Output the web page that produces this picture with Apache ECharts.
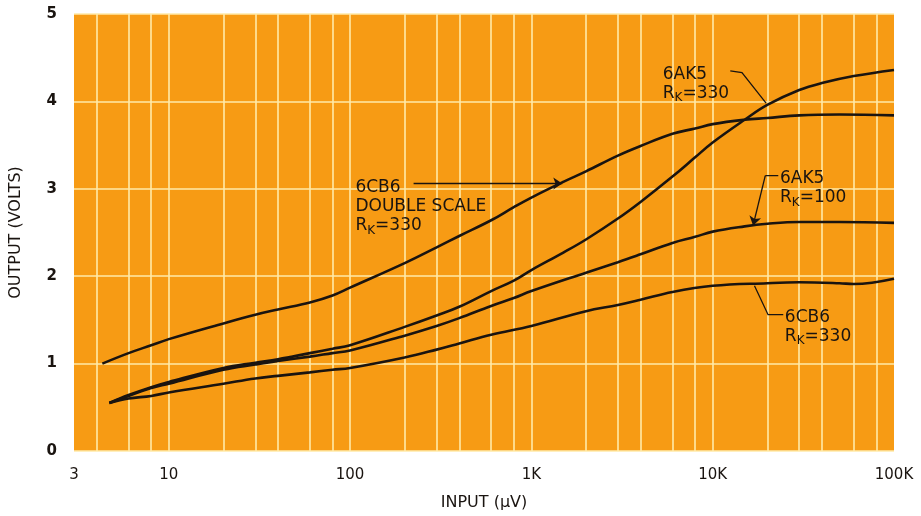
<!DOCTYPE html>
<html>
<head>
<meta charset="utf-8">
<script src="https://cdn.jsdelivr.net/npm/echarts@6/dist/echarts.min.js"></script>
<style>
  html, body { margin: 0; padding: 0; background: #fff; }
  #main { width: 921px; height: 516px; }
</style>
</head>
<body>
<div id="main"></div>
<script>
// input in microvolts, output in volts
const dblInput  = [4.3, 6, 8, 10, 20, 30, 40, 60, 80, 100, 200, 300, 400, 600, 800, 1000, 1500, 2000, 3000, 4000, 6000, 8000, 10000, 15000, 20000, 30000, 50000, 100000];
const dblOutput = [1.0, 1.12, 1.21, 1.28, 1.46, 1.56, 1.62, 1.70, 1.78, 1.87, 2.15, 2.33, 2.46, 2.64, 2.79, 2.90, 3.08, 3.20, 3.38, 3.49, 3.63, 3.69, 3.74, 3.79, 3.81, 3.84, 3.85, 3.84];

const ak330Input  = [4.7, 6, 8, 10, 20, 30, 40, 60, 80, 100, 200, 300, 400, 600, 800, 1000, 1500, 2000, 3000, 4000, 6000, 8000, 10000, 15000, 20000, 30000, 40000, 60000, 100000];
const ak330Output = [0.55, 0.64, 0.73, 0.79, 0.95, 1.01, 1.05, 1.12, 1.17, 1.21, 1.42, 1.55, 1.65, 1.83, 1.95, 2.07, 2.27, 2.42, 2.66, 2.85, 3.14, 3.36, 3.53, 3.79, 3.96, 4.13, 4.21, 4.29, 4.36];

const ak100Input  = [4.7, 6, 8, 10, 20, 30, 40, 60, 80, 100, 200, 300, 400, 600, 800, 1000, 2000, 3000, 4000, 6000, 8000, 10000, 15000, 20000, 30000, 50000, 100000];
const ak100Output = [0.55, 0.63, 0.72, 0.77, 0.93, 0.99, 1.03, 1.08, 1.12, 1.15, 1.32, 1.43, 1.52, 1.66, 1.75, 1.83, 2.04, 2.16, 2.25, 2.38, 2.45, 2.51, 2.57, 2.60, 2.62, 2.62, 2.61];

const cb330Input  = [4.7, 6, 8, 10, 20, 30, 40, 60, 80, 100, 200, 300, 400, 600, 1000, 2000, 3000, 4000, 6000, 10000, 20000, 30000, 50000, 60000, 100000];
const cb330Output = [0.55, 0.60, 0.63, 0.67, 0.77, 0.83, 0.86, 0.90, 0.93, 0.95, 1.07, 1.16, 1.23, 1.33, 1.43, 1.60, 1.67, 1.73, 1.82, 1.89, 1.92, 1.93, 1.92, 1.91, 1.97];

// vertical rulings of the log paper
const gridLinesX = [4, 6, 8, 10, 20, 30, 40, 60, 80, 100, 200, 300, 400, 600, 800,
  1000, 2000, 3000, 4000, 6000, 8000, 10000, 20000, 30000, 40000, 60000, 80000];

const zip = (xs, ys) => xs.map((x, i) => [x, ys[i]]);

const ink = '#1a1410';
const paper = '#F79B14';
const rule = '#FFEAA8';
const font = 'DejaVu Sans';

const chart = echarts.init(document.getElementById('main'));

function curve(name, xs, ys) {
  return {
    name: name,
    type: 'line',
    data: zip(xs, ys),
    smooth: 0.4,
    showSymbol: false,
    silent: true,
    z: 5,
    lineStyle: { color: ink, width: 2.6 }
  };
}

function leaders(items, arrow) {
  return {
    type: 'lines',
    coordinateSystem: 'cartesian2d',
    polyline: !arrow,
    silent: true,
    z: 6,
    symbol: arrow ? ['none', 'arrow'] : 'none',
    symbolSize: 9,
    lineStyle: { color: ink, width: 1.3, opacity: 1 },
    data: items.map(c => ({ coords: c }))
  };
}

const option = {
  animation: false,
  backgroundColor: '#fff',
  grid: {
    left: 74, right: 27, top: 14, bottom: 56,
    show: true, backgroundColor: paper, borderWidth: 0
  },
  xAxis: {
    type: 'log',
    logBase: 10,
    min: 3,
    max: 100000,
    name: 'INPUT (μV)',
    nameLocation: 'middle',
    nameGap: 44,
    nameTextStyle: { color: ink, fontFamily: font, fontSize: 16 },
    axisLine: { show: false },
    axisTick: { show: false },
    splitLine: { show: false },
    axisLabel: {
      color: ink, fontFamily: font, fontSize: 15, margin: 17,
      showMinLabel: true, showMaxLabel: true,
      formatter: function (v) {
        return v >= 1000 ? (v / 1000) + 'K' : String(v);
      }
    }
  },
  yAxis: {
    type: 'value',
    min: 0,
    max: 5,
    interval: 1,
    name: 'OUTPUT (VOLTS)',
    nameLocation: 'middle',
    nameGap: 50,
    nameTextStyle: { color: ink, fontFamily: font, fontSize: 16 },
    axisLine: { show: false },
    axisTick: { show: false },
    splitLine: { show: true, lineStyle: { color: rule, width: 1.6 } },
    axisLabel: { color: ink, fontFamily: font, fontSize: 15, fontWeight: 'bold', margin: 17 }
  },
  series: [
    {
      type: 'line',
      data: [],
      silent: true,
      z: 1,
      markLine: {
        silent: true,
        symbol: 'none',
        label: { show: false },
        lineStyle: { color: rule, width: 1.6, type: 'solid' },
        data: gridLinesX.map(v => ({ xAxis: v }))
      }
    },
    curve('6CB6 double scale', dblInput, dblOutput),
    curve('6AK5 RK=330', ak330Input, ak330Output),
    curve('6AK5 RK=100', ak100Input, ak100Output),
    curve('6CB6 RK=330', cb330Input, cb330Output),
    // leader lines from the labels to their curves
    leaders([
      [[224, 3.06], [1480, 3.06]],
      [[19500, 3.15], [16700, 2.58]]
    ], true),
    leaders([
      [[23000, 3.15], [19500, 3.15]],
      [[12500, 4.35], [14500, 4.33], [19700, 3.98]],
      [[24500, 1.56], [20200, 1.56], [17000, 1.89]]
    ], false)
  ]
};

chart.setOption(option);

// curve labels, anchored by their top-left corner in data space
const notes = [
  { at: [5300, 4.42], text: '6AK5\nR{k|K}=330' },
  { at: [107, 3.12], text: '6CB6\nDOUBLE SCALE\nR{k|K}=330' },
  { at: [23500, 3.22], text: '6AK5\nR{k|K}=100' },
  { at: [25000, 1.64], text: '6CB6\nR{k|K}=330' }
];

chart.setOption({
  graphic: notes.map(n => {
    const p = chart.convertToPixel({ gridIndex: 0 }, n.at);
    return {
      type: 'text',
      x: p[0],
      y: p[1],
      z: 10,
      silent: true,
      style: {
        text: n.text,
        fill: ink,
        font: '17px "DejaVu Sans"',
        align: 'left',
        verticalAlign: 'top',
        lineHeight: 19,
        rich: {
          k: { fontSize: 12, fontFamily: font, fill: ink, padding: [10, 0, 0, 0], lineHeight: 19 }
        }
      }
    };
  })
});
</script>
</body>
</html>
